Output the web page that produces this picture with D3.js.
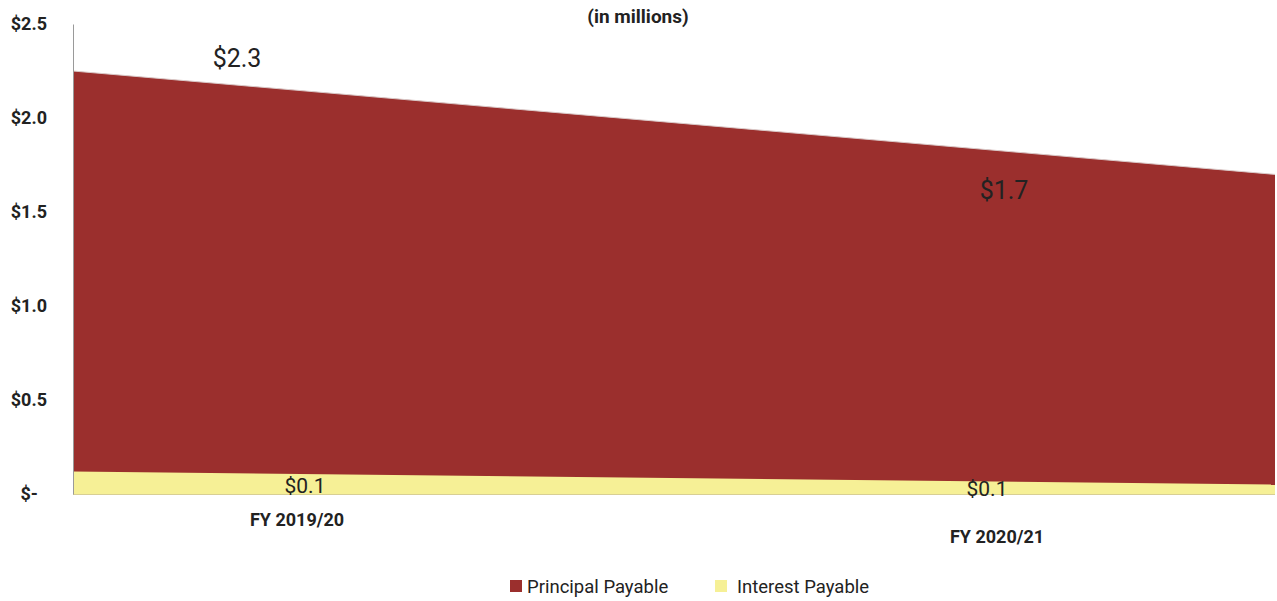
<!DOCTYPE html>
<html>
<head>
<meta charset="utf-8">
<script src="https://cdn.jsdelivr.net/npm/d3@7"></script>
<style>
  html, body { margin: 0; padding: 0; background: #fff; }
  svg { display: block; font-family: Roboto, "Noto Sans", sans-serif; }
</style>
</head>
<body>
<svg id="chart" width="1277" height="601"></svg>
<script>
// Debt service schedule, in millions of dollars
const categories = ["FY 2019/20", "FY 2020/21"];
const principalPayable = [2.25, 1.70];
const interestPayable = [0.12, 0.05];
const yTicks = [0, 0.5, 1.0, 1.5, 2.0, 2.5];
const seriesNames = ["Principal Payable", "Interest Payable"];

const colors = { principal: "#9b2f2d", interest: "#f6f096" };

const svg = d3.select("#chart");
const plot = { left: 73, right: 1275, top: 24, bottom: 494 };

const x = d3.scalePoint().domain(categories).range([plot.left, plot.right]);
const y = d3.scaleLinear().domain([0, 2.5]).range([plot.bottom, plot.top]);

// Title
svg.append("text")
  .attr("x", 638).attr("y", 23)
  .attr("text-anchor", "middle")
  .attr("font-size", 19).attr("font-weight", "bold").attr("fill", "#222")
  .text("(in millions)");

// Areas (overlapping, not stacked)
const area = d3.area()
  .x((d, i) => x(categories[i]))
  .y0(y(0))
  .y1(d => y(d));

svg.append("path")
  .datum(principalPayable)
  .attr("d", area)
  .attr("fill", colors.principal);

svg.append("path")
  .datum(principalPayable)
  .attr("d", d3.line().x((d, i) => x(categories[i])).y(d => y(d)))
  .attr("fill", "none").attr("stroke", "#d9c9c8").attr("stroke-width", 1);

svg.append("path")
  .datum(interestPayable)
  .attr("d", area)
  .attr("fill", colors.interest);

svg.append("line")
  .attr("x1", plot.left).attr("x2", plot.right)
  .attr("y1", y(0) + 0.5).attr("y2", y(0) + 0.5)
  .attr("stroke", "#d8cf93").attr("stroke-width", 1);

// Y axis
const yAxis = d3.axisLeft(y)
  .tickValues(yTicks)
  .tickSize(0)
  .tickPadding(26)
  .tickFormat(d => d === 0 ? "$-\u2002" : "$" + d3.format(".1f")(d));

const gy = svg.append("g")
  .attr("transform", `translate(${plot.left},0)`)
  .call(yAxis);
gy.select(".domain").attr("stroke", "#9a9a9a").attr("stroke-width", 1);
gy.selectAll("text")
  .attr("font-size", 18).attr("font-weight", "bold").attr("fill", "#222")
  .attr("font-family", "Roboto, sans-serif");

// X axis labels, staggered
const xLabelPos = [{ dx: 224, y: 526 }, { dx: -278, y: 543 }];
svg.append("g").selectAll("text")
  .data(categories)
  .join("text")
  .attr("x", (d, i) => x(d) + xLabelPos[i].dx)
  .attr("y", (d, i) => xLabelPos[i].y)
  .attr("text-anchor", "middle")
  .attr("font-size", 18).attr("font-weight", "bold").attr("fill", "#222")
  .text(d => d);

// Value labels
const fmt = v => "$" + d3.format(".1f")(v);
const principalLabelPos = [{ dx: 164, dy: -4 }, { dx: -271, dy: 25 }];
svg.append("g").selectAll("text")
  .data(principalPayable)
  .join("text")
  .attr("x", (d, i) => x(categories[i]) + principalLabelPos[i].dx)
  .attr("y", (d, i) => y(d) + principalLabelPos[i].dy)
  .attr("text-anchor", "middle")
  .attr("font-size", 25).attr("fill", "#222")
  .text(fmt);

const interestLabelPos = [{ dx: 232, dy: 22 }, { dx: -288, dy: 11 }];
svg.append("g").selectAll("text")
  .data(interestPayable)
  .join("text")
  .attr("x", (d, i) => x(categories[i]) + interestLabelPos[i].dx)
  .attr("y", (d, i) => y(d) + interestLabelPos[i].dy)
  .attr("text-anchor", "middle")
  .attr("font-size", 21).attr("fill", "#222")
  .text(fmt);

// Legend
const legendItems = [
  { name: seriesNames[0], color: colors.principal, x: 510, tx: 527 },
  { name: seriesNames[1], color: colors.interest, x: 715, tx: 737 }
];
const lg = svg.append("g").selectAll("g").data(legendItems).join("g");
lg.append("rect")
  .attr("x", d => d.x).attr("y", 580)
  .attr("width", 12).attr("height", 12)
  .attr("fill", d => d.color);
lg.append("text")
  .attr("x", d => d.tx).attr("y", 593)
  .attr("font-size", 18.5).attr("fill", "#222")
  .text(d => d.name);
</script>
</body>
</html>
